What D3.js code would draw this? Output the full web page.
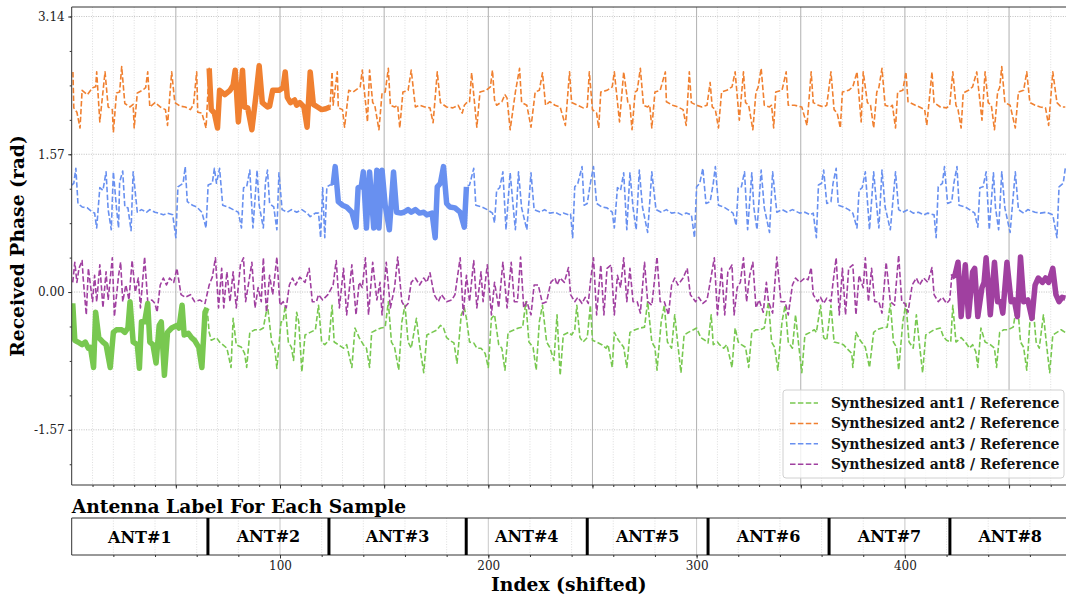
<!DOCTYPE html>
<html>
<head>
<meta charset="utf-8">
<script src="https://cdn.jsdelivr.net/npm/d3@7/dist/d3.min.js"></script>
<style>
  body { margin: 0; background: #fff; }
  text { font-family: "DejaVu Serif", serif; }
</style>
</head>
<body>
<script>
// phase samples, [index, phase in rad]
var ant1Pts = [[0.5,-0.13],[1.5,-0.55],[3,-0.57],[5,-0.60],[6.5,-0.57],[8,-0.64],[9,-0.63],[10.5,-0.86],[11.5,-0.23],[13,-0.52],[15,-0.57],[16.5,-0.60],[18.5,-0.86],[20,-0.46],[21.5,-0.43],[24,-0.43],[25.5,-0.46],[27,-0.41],[28,-0.11],[29.5,-0.57],[31.5,-0.60],[32.5,-0.87],[33.5,-0.34],[35,-0.34],[36.5,-0.13],[37.5,-0.57],[39,-0.60],[40.5,-0.81],[42,-0.38],[43,-0.34],[44.5,-0.95],[46,-0.46],[48,-0.41],[50.5,-0.38],[51.5,-0.41],[53,-0.15],[54,-0.49],[56,-0.47],[57.5,-0.52],[59,-0.55],[61,-0.63],[62.5,-0.86],[64,-0.23],[65,-0.18],[66,-0.46],[67,-0.55],[69.5,-0.52],[71,-0.57],[72.5,-0.60],[74.5,-0.64],[76.5,-0.86],[77.5,-0.30],[79,-0.60],[81.5,-0.63],[83,-0.70],[84,-0.86],[85.5,-0.46],[88,-0.43],[90.5,-0.43],[92,-0.41],[94,-0.15],[96,-0.57],[97.5,-0.64],[98.5,-0.87],[100.5,-0.34],[101.5,-0.34],[102.5,-0.15],[104,-0.57],[105.5,-0.63],[106.5,-0.78],[108,-0.23],[109,-0.34],[110.5,-0.91],[112,-0.49],[114.5,-0.46],[117,-0.43],[118.5,-0.15],[120,-0.57],[121.5,-0.60],[123.5,-0.55],[125,-0.15],[126,-0.57],[128,-0.60],[130.5,-0.64],[132,-0.60],[134.5,-0.86],[136,-0.41],[138,-0.52],[140,-0.60],[141.5,-0.64],[143,-0.86],[144,-0.46],[146.5,-0.43],[148.5,-0.41],[150.5,-0.40],[152,-0.11],[153.5,-0.57],[155,-0.63],[157,-0.89],[158.5,-0.34],[160,-0.15],[161.5,-0.57],[163,-0.64],[165.5,-0.30],[167,-0.60],[169,-0.92],[170.5,-0.49],[173,-0.46],[175.5,-0.43],[177,-0.38],[178.5,-0.41],[180,-0.52],[181.5,-0.55],[183.5,-0.58],[185,-0.81],[187,-0.26],[188.5,-0.18],[189.5,-0.30],[191,-0.57],[193,-0.58],[194.5,-0.64],[196.5,-0.64],[198.5,-0.70],[200,-0.86],[201.5,-0.30],[203,-0.26],[205,-0.60],[206.5,-0.64],[208,-0.89],[209.5,-0.46],[212.5,-0.43],[214.5,-0.41],[216.5,-0.40],[218,-0.11],[219.5,-0.57],[221.5,-0.63],[223,-0.89],[224.5,-0.34],[226,-0.15],[228,-0.57],[229.5,-0.63],[231.5,-0.78],[233,-0.26],[234.5,-0.95],[236,-0.49],[238.5,-0.46],[240,-0.49],[241.5,-0.43],[242.5,-0.15],[244,-0.52],[245.5,-0.57],[247.5,-0.52],[249,-0.15],[250,-0.55],[252,-0.57],[254.5,-0.60],[256.5,-0.64],[257.5,-0.60],[259.5,-0.86],[260.5,-0.46],[262.5,-0.55],[265,-0.63],[266.5,-0.86],[268,-0.46],[270.5,-0.43],[273,-0.41],[275,-0.40],[276.5,-0.11],[278.5,-0.57],[280,-0.63],[281,-0.89],[283,-0.34],[284.5,-0.15],[286,-0.57],[288,-0.64],[289.5,-0.26],[291,-0.60],[292.5,-0.92],[294,-0.49],[296,-0.46],[298.5,-0.43],[300,-0.41],[302,-0.52],[304,-0.55],[305.5,-0.58],[307,-0.26],[308,-0.60],[310,-0.57],[311,-0.60],[313,-0.64],[314.5,-0.60],[317,-0.86],[318.5,-0.41],[320,-0.57],[321.5,-0.60],[323.5,-0.63],[325,-0.86],[326.5,-0.46],[328.5,-0.43],[330.5,-0.43],[332.5,-0.41],[334.5,-0.11],[336,-0.57],[337.5,-0.63],[339,-0.89],[341,-0.34],[342.5,-0.15],[344,-0.57],[346,-0.64],[347.5,-0.26],[349,-0.60],[350.5,-0.92],[352,-0.49],[354.5,-0.46],[356.5,-0.43],[357.5,-0.46],[359.5,-0.15],[361,-0.52],[362.5,-0.55],[364.5,-0.15],[366,-0.57],[368,-0.58],[370.5,-0.60],[372,-0.64],[374.5,-0.70],[375,-0.86],[376.5,-0.46],[378.5,-0.55],[381,-0.63],[383,-0.86],[385,-0.46],[386.5,-0.43],[389,-0.41],[391.5,-0.40],[393,-0.13],[394.5,-0.57],[396,-0.63],[397,-0.89],[399,-0.34],[400.5,-0.13],[402,-0.57],[404,-0.64],[405.5,-0.26],[407,-0.60],[408.5,-0.92],[410,-0.49],[412,-0.46],[414,-0.43],[417,-0.41],[418.5,-0.51],[420,-0.55],[422,-0.57],[423,-0.15],[424.5,-0.57],[427,-0.52],[429,-0.57],[431,-0.64],[432.5,-0.60],[434,-0.68],[435,-0.86],[436.5,-0.41],[438.5,-0.57],[441,-0.60],[443,-0.64],[444,-0.86],[445.5,-0.46],[447.5,-0.43],[449.5,-0.43],[452,-0.40],[454,-0.11],[455.5,-0.57],[457,-0.63],[458.5,-0.89],[460,-0.34],[461.5,-0.15],[463,-0.57],[464.5,-0.64],[466.5,-0.26],[468,-0.60],[469.5,-0.92],[471,-0.49],[473,-0.46],[475,-0.43],[477,-0.46]];

var ant2Pts = [[0.6,2.51],[1,2.10],[2.5,2.05],[4,1.87],[5,2.30],[7.5,2.25],[10,2.33],[11.5,2.34],[12,2.51],[13.5,1.94],[16,2.51],[17.5,2.11],[19.5,2.08],[20,1.82],[21.5,2.27],[23,2.28],[24,2.57],[25.5,2.15],[28,2.11],[29.5,2.14],[30,1.87],[31.5,2.27],[34,2.30],[35.5,2.33],[36.5,2.51],[37.5,2.11],[40,2.16],[42.5,2.11],[45,2.08],[46,1.90],[48,2.51],[49.5,2.16],[52,2.12],[54.5,2.11],[57,2.08],[58.5,2.14],[60,2.51],[60.5,2.05],[62.5,2.04],[64.5,1.87],[66,2.55],[67,2.08],[68.5,2.04],[70,1.87],[71,2.30],[73.5,2.25],[76,2.30],[77.5,2.36],[78.5,2.53],[80,1.94],[82,2.53],[83,2.11],[84.5,2.10],[86.5,1.85],[88.5,2.25],[90,2.58],[91.5,2.16],[94,2.11],[95,2.12],[96.5,2.30],[99.5,2.30],[101.5,2.33],[102.5,2.51],[103.5,2.22],[105,2.16],[107,2.19],[108,2.13],[109.5,2.16],[111.5,2.11],[113,1.88],[114.5,2.51],[116,2.14],[118,2.11],[120,2.08],[122,2.09],[124,2.11],[125,2.51],[125.5,2.13],[127.5,2.51],[128,2.10],[130,2.08],[131,1.88],[133,2.30],[135,2.28],[138.5,2.34],[139.5,2.53],[142,1.94],[143,2.53],[144.5,2.16],[145.5,2.13],[147.5,1.85],[149,2.27],[150.5,2.28],[152,2.55],[153,2.13],[155,2.11],[156.5,2.13],[157.5,1.87],[159,2.28],[161.5,2.30],[163,2.53],[165,2.11],[167,2.13],[169.5,2.11],[172,2.10],[173.5,1.93],[175.5,2.51],[177,2.16],[180,2.11],[183,2.10],[185.5,2.13],[187.5,2.04],[188.5,2.13],[190,2.17],[191,2.17],[192,2.50],[193.5,2.13],[194.5,1.88],[196,2.28],[199,2.30],[201,2.34],[202,2.53],[203,2.19],[204,2.13],[206.5,2.17],[208,2.25],[209,2.21],[210.5,1.85],[213,2.28],[215,2.55],[216,2.16],[218.5,2.13],[220.5,1.88],[222.5,2.28],[224.5,2.30],[226,2.50],[227.5,2.13],[229.5,2.17],[232,2.13],[234.5,2.11],[237,1.90],[239,2.51],[240,2.16],[243,2.13],[245.5,2.10],[247.5,2.11],[248.5,2.51],[250,2.08],[252,2.04],[253,1.87],[254,2.28],[257,2.30],[259.5,2.34],[260.5,2.51],[263,1.94],[265,2.51],[267,2.16],[268,2.13],[269,1.85],[270.5,2.28],[271.5,2.30],[273,2.55],[274.5,2.13],[276.5,2.11],[277.5,2.13],[278.5,1.87],[280,2.28],[282.5,2.30],[285,2.51],[285.5,2.17],[288.5,2.13],[291,2.11],[293.5,2.08],[295,1.90],[296.5,2.51],[297.5,2.16],[300,2.13],[302.5,2.11],[305,2.13],[306.5,2.39],[307.5,2.11],[309,2.08],[310.5,1.87],[312,2.28],[314.5,2.30],[317,2.34],[318.5,2.51],[320.5,1.96],[322.5,2.51],[323.5,2.16],[325,2.13],[327,1.85],[328.5,2.28],[329.5,2.33],[331,2.55],[332.5,2.13],[335,2.11],[336,2.13],[337,1.87],[338,2.28],[341,2.30],[343,2.51],[344,2.13],[347,2.13],[350.5,2.11],[353,1.90],[355,2.51],[356,2.16],[358.5,2.13],[361,2.11],[362.5,2.13],[364.5,2.51],[366,2.08],[367.5,2.04],[369,1.87],[370,2.28],[373,2.30],[375,2.34],[377,2.51],[379,1.94],[380,2.51],[382,2.16],[383.5,2.13],[385,1.87],[386.5,2.28],[387.5,2.33],[389,2.55],[390.5,2.13],[393,2.11],[394,2.13],[395.5,1.87],[396.5,2.28],[399,2.30],[400.5,2.51],[401.5,2.17],[405,2.13],[407,2.11],[409.5,2.08],[410.5,1.90],[413,2.51],[414,2.16],[417,2.11],[420,2.10],[421.5,2.13],[423,2.51],[424.5,2.13],[425.5,2.08],[427,1.87],[428,2.27],[430.5,2.30],[432.5,2.34],[434.5,2.51],[437,1.96],[438.5,2.51],[440,2.16],[441.5,2.13],[443,1.85],[444.5,2.28],[445.5,2.33],[446.5,2.57],[448,2.16],[450.5,2.13],[453,1.87],[454.5,2.28],[457,2.30],[458.5,2.51],[460,2.16],[462.5,2.13],[465,2.11],[467.5,2.10],[469,1.90],[471,2.51],[473,2.16],[475,2.11],[477,2.11]];

var ant3Pts = [[0,1.22],[1,1.24],[2,1.41],[3,1.01],[5,0.97],[7.5,0.96],[10,0.91],[11,0.90],[12,0.73],[13.5,1.19],[15,1.16],[16.5,1.37],[17.5,0.94],[19,0.71],[20,1.37],[21.5,0.96],[22.5,0.73],[23,1.25],[24.5,1.38],[25.5,0.97],[27,0.96],[28.5,0.70],[29.5,1.37],[31.5,0.91],[33.5,0.94],[36,0.91],[37.5,0.94],[40,0.91],[41.5,0.90],[44,0.88],[46,0.90],[48.5,0.88],[50,0.62],[51,1.20],[53.5,1.24],[54.5,1.43],[55.5,1.03],[58,0.99],[60,0.97],[62.5,0.91],[64.5,0.73],[65.5,1.22],[67.5,1.24],[68.5,1.41],[69.5,1.24],[71,1.41],[72.5,0.99],[75,0.97],[77.5,0.94],[80,0.91],[81.5,0.73],[82.5,1.19],[84,1.20],[85.5,1.39],[87,0.73],[89,1.39],[90,0.99],[92,0.73],[93,1.25],[94,1.39],[95,1.01],[97,0.97],[98.5,0.71],[99.5,1.36],[101,0.94],[103.5,0.91],[105.5,0.94],[108,0.91],[110.5,0.94],[113,0.90],[114.5,0.86],[117,0.90],[118.5,0.90],[119.5,0.62],[120.5,1.19],[121.5,0.62],[122.5,1.20],[124,1.22],[125.5,1.22],[126.5,1.43],[128,1.03],[130,0.99],[132,0.97],[134.5,0.91],[136.5,0.74],[137.5,1.19],[139,1.20],[140,1.37],[141.5,0.73],[143,1.37],[145,0.73],[146.5,1.39],[147.5,0.73],[149,1.39],[150.5,0.99],[152.5,0.71],[154.5,1.37],[156,0.91],[158,0.90],[159.5,0.91],[161.5,0.94],[163,0.91],[165,0.94],[167,0.90],[169,0.91],[170.5,0.88],[173,0.90],[174.5,0.62],[175.5,1.20],[177,1.24],[178.5,1.43],[180,1.01],[181.5,0.97],[184,0.96],[186.5,0.91],[188.5,0.74],[189.5,1.20],[191,1.22],[193,1.41],[194,0.99],[197,0.97],[199.5,0.94],[202,0.90],[203,0.79],[204,1.16],[205.5,1.19],[207,1.37],[208.5,0.71],[210.5,1.36],[212,0.96],[213,0.71],[214.5,1.37],[216,0.96],[218.5,0.71],[220.5,1.36],[222,0.94],[225,0.91],[227,0.94],[229.5,0.90],[232,0.91],[234.5,0.88],[236,0.90],[238.5,0.88],[239.5,0.89],[240.5,0.62],[241.5,1.20],[243,1.24],[245,1.43],[246,0.99],[247.5,1.01],[249,1.24],[250.5,1.43],[252,1.01],[254.5,0.97],[257,0.96],[259.5,0.91],[260.5,0.73],[262,1.19],[263.5,1.16],[265,1.36],[266.5,0.71],[268,1.36],[269.5,0.96],[271,0.71],[272.5,1.39],[274,0.97],[276.5,0.68],[278.5,1.37],[280.5,0.94],[283,0.91],[285.5,0.94],[288,0.90],[290.5,0.91],[293,0.88],[295,0.90],[297.5,0.88],[299,0.62],[300,1.20],[301.5,1.24],[303,1.41],[304.5,1.01],[306.5,1.03],[308,1.24],[309,1.43],[310.5,0.99],[313,0.97],[315,0.94],[317.5,0.90],[319,0.76],[320,1.19],[321.5,1.20],[323,1.37],[324.5,0.71],[326.5,1.36],[327.5,0.96],[329,0.71],[331,1.39],[332.5,0.96],[335,0.68],[336.5,1.37],[338.5,0.91],[341,0.94],[343.5,0.91],[346,0.94],[349.5,0.90],[352,0.91],[354.5,0.88],[356,0.90],[357.5,0.62],[358.5,1.22],[360,1.24],[361,1.39],[362.5,1.01],[364.5,1.03],[365.5,1.24],[367,1.41],[368,0.99],[370.5,0.97],[373,0.94],[375,0.90],[377,0.73],[378,1.16],[379.5,1.19],[381,1.37],[383,0.71],[385,1.37],[386.5,0.97],[387.5,0.73],[389,1.39],[390.5,0.97],[393,0.71],[395.5,1.37],[397,0.94],[399,0.91],[401.5,0.94],[404,0.90],[406.5,0.91],[409,0.88],[411,0.90],[414,0.88],[415,0.62],[416,1.20],[418,1.24],[419,1.43],[420.5,1.01],[422.5,1.03],[423.5,1.24],[425,1.43],[426,0.99],[429,0.97],[431,0.94],[433.5,0.90],[435,0.74],[436,1.19],[437.5,1.20],[439,1.37],[440.5,0.71],[442.5,1.36],[443.5,0.96],[445,0.71],[446.5,1.37],[448,0.96],[450.5,0.68],[453,1.37],[454.5,0.94],[457,0.90],[459,0.94],[462.5,0.91],[465,0.90],[468,0.91],[471,0.88],[473,0.62],[474,1.20],[476,1.24],[477,1.41]];

var ant8Pts = [[0.5,0.11],[1.5,0.34],[2.5,0.11],[3.5,0.27],[5,0.36],[5.5,0.16],[7,-0.26],[8,0.27],[10,-0.11],[11,0.19],[12,-0.11],[13.5,0.31],[15,-0.18],[16.5,0.23],[17.5,-0.09],[19.5,0.39],[20.5,-0.28],[22.5,0.19],[23.5,0.34],[24.5,-0.11],[26,0.08],[27.5,-0.09],[29,0.36],[30.5,0.00],[32,0.16],[33,-0.18],[35,0.40],[36.5,-0.11],[38.5,-0.09],[40,-0.13],[41,-0.23],[42.5,0.08],[44,0.16],[45.5,0.08],[47,0.16],[49,0.11],[50.5,0.27],[52.5,-0.03],[54.5,-0.06],[57,-0.03],[59,-0.11],[61.5,-0.09],[64,-0.13],[66,0.08],[67.5,0.17],[69,0.39],[70.5,-0.18],[72,0.27],[73,-0.18],[74.5,0.23],[76,-0.11],[77.5,0.23],[79,-0.18],[81,0.31],[82.5,0.39],[83.5,-0.11],[85,0.11],[86.5,0.34],[88,-0.18],[89.5,0.05],[91,-0.11],[92,0.39],[93.5,-0.23],[95,0.19],[96.5,-0.03],[98.5,0.40],[100,-0.15],[101.5,-0.11],[103,-0.18],[104.5,0.08],[106,0.16],[107.5,0.08],[109.5,0.17],[112,0.11],[114,0.27],[115.5,-0.11],[117.5,-0.11],[118.5,-0.03],[120.5,-0.09],[123,-0.03],[125.5,0.08],[127,0.36],[128.5,-0.18],[130.5,0.27],[132,-0.26],[134.5,0.31],[136.5,-0.26],[138,0.11],[139.5,0.05],[141,0.39],[142.5,-0.26],[144.5,0.34],[146.5,-0.09],[148,0.11],[149,-0.26],[151,0.34],[153,-0.18],[155,0.05],[156.5,0.40],[158.5,-0.11],[160,-0.17],[161.5,-0.13],[163,0.11],[165,0.16],[167,0.08],[169,0.16],[170.5,0.11],[172,0.22],[174,-0.03],[176,-0.11],[177.5,-0.03],[180,-0.11],[182.5,-0.09],[184,-0.03],[185,0.14],[186.5,0.39],[188,-0.26],[189.5,0.19],[191,-0.11],[193,0.36],[194.5,-0.18],[196.5,0.23],[197.5,-0.11],[199.5,0.31],[201.5,-0.26],[203,0.11],[205,-0.18],[207,0.34],[209,-0.18],[211,0.34],[212.5,-0.11],[214,-0.11],[215.5,0.40],[217,-0.18],[218.5,-0.11],[220.5,-0.26],[222,0.08],[224,0.08],[226,-0.13],[228,-0.11],[230,0.11],[232,0.16],[233,0.08],[234.5,0.16],[236.5,0.11],[238.5,0.28],[239.5,-0.03],[241.5,-0.11],[243,-0.06],[245,-0.13],[246.5,-0.06],[248,-0.13],[249,0.11],[250.5,0.39],[252,-0.26],[254,0.31],[255.5,-0.26],[257,0.27],[259,0.31],[260.5,-0.26],[262,0.19],[263.5,0.05],[265,0.39],[266.5,-0.11],[268,0.27],[269.5,-0.11],[271.5,-0.11],[273,-0.24],[275,0.34],[276.5,-0.11],[278.5,-0.15],[281,0.40],[282.5,-0.11],[284.5,-0.11],[286.5,-0.26],[288,0.08],[289.5,0.16],[291,0.08],[293.5,0.16],[295.5,0.27],[297,-0.03],[299.5,-0.11],[301,-0.06],[303,-0.13],[305,-0.09],[306.5,0.11],[308.5,0.39],[310,-0.26],[312,0.27],[313.5,-0.26],[315,0.23],[317,0.31],[318,-0.26],[319.5,0.05],[321,0.11],[322.5,0.39],[324,-0.11],[325.5,0.19],[327,0.34],[328.5,-0.18],[330,-0.09],[332,-0.23],[333.5,0.11],[334.5,-0.11],[336.5,-0.24],[338.5,0.40],[340.5,-0.11],[342.5,-0.11],[344,-0.26],[346,0.08],[347.5,0.16],[349.5,0.11],[352,0.16],[353.5,0.14],[355,0.28],[356,-0.03],[358,-0.11],[359.5,-0.06],[361,-0.13],[362.5,-0.07],[364.5,-0.11],[365.5,0.11],[367,0.39],[368.5,-0.26],[370,0.27],[371.5,-0.26],[373,0.27],[375,0.31],[376.5,-0.26],[378,0.19],[380,0.05],[381,0.39],[382.5,-0.11],[384,0.27],[385.5,-0.11],[387.5,-0.11],[389,-0.24],[391,0.34],[393,-0.11],[395,-0.15],[397,0.42],[398.5,-0.11],[400,-0.13],[401.5,-0.23],[403.5,0.08],[405.5,0.16],[407,0.08],[409,0.16],[411,0.11],[413,0.28],[414,-0.03],[416,-0.11],[418,-0.06],[420,-0.13],[421.5,-0.09],[422.5,0.17],[424,0.19],[425.5,0.34],[427,-0.28],[429,0.31],[430.5,-0.28],[432.5,0.23],[433.5,0.27],[435,-0.28],[437,0.05],[438,0.11],[439,0.39],[441,-0.26],[443,0.34],[444.5,-0.11],[446,-0.11],[447,-0.24],[449,0.34],[451,-0.11],[452.5,-0.09],[454,-0.28],[455.5,0.40],[457,-0.11],[459,-0.09],[461,-0.30],[462.5,0.08],[464,0.16],[466,0.11],[467.5,0.16],[469,0.11],[471,0.27],[472.5,-0.03],[474,-0.11],[475.5,-0.06],[477,-0.07]];

// series names, and the index span each series is highlighted over
var seriesNames = ["Synthesized ant1 / Reference", "Synthesized ant2 / Reference",
                   "Synthesized ant3 / Reference", "Synthesized ant8 / Reference"];
var boldSpans = [[0, 65.2], [65.5, 124.5], [124.5, 190], [422, 478]];

// antenna label strip
var antLabels = ["ANT#1", "ANT#2", "ANT#3", "ANT#4", "ANT#5", "ANT#6", "ANT#7", "ANT#8"];
var antEdges = [0, 65.4, 123.5, 189.4, 247.5, 305.5, 363.6, 421.6, 479.5];

// tick labels
var yTicks = [-Math.PI / 2, 0, Math.PI / 2, Math.PI];
var yTickLabels = ["-1.57", "0.00", "1.57", "3.14"];
var xTickLabels = [100, 200, 300, 400];

var seriesData = [ant1Pts, ant2Pts, ant3Pts, ant8Pts];
var colors = ["#78c850", "#f08030", "#6890f0", "#a040a0"];

// sizes
var width = 1066, height = 598;
var plot = {left: 71.7, right: 1070.5, top: 7, bottom: 485};
var strip = {top: 518, bottom: 555};

var x = d3.scaleLinear().domain([0, 479.5]).range([plot.left, plot.right]);
var y = d3.scaleLinear().domain([-2.2, 3.25]).range([plot.bottom, plot.top]);

var svg = d3.select("body").append("svg")
    .attr("width", width)
    .attr("height", height)
    .style("display", "block");

svg.append("clipPath").attr("id", "plotclip")
  .append("rect")
    .attr("x", plot.left).attr("y", plot.top)
    .attr("width", plot.right - plot.left).attr("height", plot.bottom - plot.top);

// grid of the main panel
var grid = svg.append("g");
grid.selectAll(".vminor")
    .data(d3.range(0, 480, 10).filter(function(d) { return d % 50 != 0; }))
  .enter().append("line")
    .attr("x1", function(d) { return x(d); }).attr("x2", function(d) { return x(d); })
    .attr("y1", plot.top).attr("y2", plot.bottom)
    .style("stroke", "#d6d6d6").style("stroke-width", 0.8)
    .style("stroke-dasharray", "1,1.6");
grid.selectAll(".vmajor")
    .data(d3.range(50, 480, 50))
  .enter().append("line")
    .attr("x1", function(d) { return x(d); }).attr("x2", function(d) { return x(d); })
    .attr("y1", plot.top).attr("y2", plot.bottom)
    .style("stroke", "#b0b0b0").style("stroke-width", 1);
grid.selectAll(".hmajor")
    .data(yTicks)
  .enter().append("line")
    .attr("x1", plot.left).attr("x2", plot.right)
    .attr("y1", function(d) { return y(d); }).attr("y2", function(d) { return y(d); })
    .style("stroke", "#b0b0b0").style("stroke-width", 0.8)
    .style("stroke-dasharray", "1,1.4");

// the phase lines
var line = d3.line()
    .x(function(d) { return x(d[0]); })
    .y(function(d) { return y(d[1]); });

var lines = svg.append("g").attr("clip-path", "url(#plotclip)");

seriesData.forEach(function(pts, k) {
  lines.append("path")
      .datum(pts)
      .attr("d", line)
      .style("fill", "none")
      .style("stroke", colors[k])
      .style("stroke-width", 1.6)
      .style("stroke-dasharray", "5.5,2.4")
      .style("stroke-linejoin", "round");
});

// thick highlight where each antenna is the one sampled
seriesData.forEach(function(pts, k) {
  var span = boldSpans[k];
  lines.append("path")
      .datum(pts.filter(function(d) { return d[0] >= span[0] && d[0] <= span[1]; }))
      .attr("d", line)
      .style("fill", "none")
      .style("stroke", colors[k])
      .style("stroke-width", 5.5)
      .style("stroke-linejoin", "round")
      .style("stroke-linecap", "butt");
});

// axes of the main panel
function styleAxis(g) {
  g.select(".domain").remove();
  g.selectAll(".tick line").style("stroke", "#333");
  g.selectAll(".tick text")
      .style("font-family", "DejaVu Serif")
      .style("font-size", "12px")
      .style("fill", "#222");
}

svg.append("g")
    .attr("transform", "translate(" + plot.left + ",0)")
    .call(d3.axisLeft(y).tickValues(d3.range(-5, 9).map(function(k) { return k * Math.PI / 8; }))
      .tickSize(2).tickFormat(""))
    .call(styleAxis);

svg.append("g")
    .attr("transform", "translate(" + plot.left + ",0)")
    .call(d3.axisLeft(y).tickValues(yTicks).tickSize(3.5).tickPadding(3.5)
      .tickFormat(function(d, i) { return yTickLabels[i]; }))
    .call(styleAxis);

svg.append("g")
    .attr("transform", "translate(0," + plot.bottom + ")")
    .call(d3.axisBottom(x).tickValues(d3.range(10, 480, 10)).tickSize(2).tickFormat(""))
    .call(styleAxis);

svg.append("g")
    .attr("transform", "translate(0," + plot.bottom + ")")
    .call(d3.axisBottom(x).tickValues(d3.range(50, 480, 50)).tickSize(3.5).tickFormat(""))
    .call(styleAxis);

// spines
svg.append("path")
    .attr("d", "M" + plot.left + "," + plot.top + "H" + (plot.right + 5) +
               "M" + plot.left + "," + plot.top + "V" + plot.bottom + "H" + (plot.right + 5))
    .style("fill", "none").style("stroke", "#333").style("stroke-width", 1);

// y axis label
svg.append("text")
    .attr("transform", "translate(24," + ((plot.top + plot.bottom) / 2) + ") rotate(-90)")
    .style("text-anchor", "middle")
    .style("font-size", "18.7px")
    .style("font-weight", "bold")
    .text("Received Phase (rad)");

// legend
var legend = svg.append("g").attr("transform", "translate(783,390)");
legend.append("rect")
    .attr("width", 281).attr("height", 88).attr("rx", 3)
    .style("fill", "#fff").style("fill-opacity", 0.8)
    .style("stroke", "#d0d0d0").style("stroke-width", 1);

var items = legend.selectAll(".item")
    .data(seriesNames)
  .enter().append("g")
    .attr("transform", function(d, i) { return "translate(0," + (13 + i * 20.4) + ")"; });

items.append("line")
    .attr("x1", 7).attr("x2", 35).attr("y1", 0).attr("y2", 0)
    .style("stroke", function(d, i) { return colors[i]; })
    .style("stroke-width", 1.5)
    .style("stroke-dasharray", "5.5,2.4");

items.append("text")
    .attr("x", 48).attr("y", 5)
    .style("font-size", "14px")
    .style("font-weight", "bold")
    .style("fill", "#111")
    .text(function(d) { return d; });

// antenna label strip
svg.append("text")
    .attr("x", plot.left)
    .attr("y", 513)
    .style("font-size", "18.7px")
    .style("font-weight", "bold")
    .text("Antenna Label For Each Sample");

var stripGrid = svg.append("g");
stripGrid.selectAll(".sminor")
    .data(d3.range(20, 480, 20).filter(function(d) { return d % 100 != 0; }))
  .enter().append("line")
    .attr("x1", function(d) { return x(d); }).attr("x2", function(d) { return x(d); })
    .attr("y1", strip.top).attr("y2", strip.bottom)
    .style("stroke", "#d6d6d6").style("stroke-width", 0.8)
    .style("stroke-dasharray", "1,1.6");
stripGrid.selectAll(".smajor")
    .data(xTickLabels)
  .enter().append("line")
    .attr("x1", function(d) { return x(d); }).attr("x2", function(d) { return x(d); })
    .attr("y1", strip.top).attr("y2", strip.bottom)
    .style("stroke", "#c8c8c8").style("stroke-width", 1);

svg.append("g")
    .attr("transform", "translate(0," + strip.bottom + ")")
    .call(d3.axisBottom(x).tickValues(d3.range(20, 480, 20)).tickSize(2).tickFormat(""))
    .call(styleAxis);

svg.append("g")
    .attr("transform", "translate(0," + strip.bottom + ")")
    .call(d3.axisBottom(x).tickValues(xTickLabels).tickSize(3.5).tickPadding(3)
      .tickFormat(function(d) { return d; }))
    .call(styleAxis);

svg.append("path")
    .attr("d", "M" + (plot.right + 5) + "," + strip.top + "H" + plot.left + "V" + strip.bottom + "H" + (plot.right + 5))
    .style("fill", "none").style("stroke", "#333").style("stroke-width", 1);

// separators between antennas
svg.selectAll(".sep")
    .data(antEdges.slice(1, -1))
  .enter().append("line")
    .attr("x1", function(d) { return x(d); }).attr("x2", function(d) { return x(d); })
    .attr("y1", strip.top).attr("y2", strip.bottom)
    .style("stroke", "#000").style("stroke-width", 3);

svg.selectAll(".antlabel")
    .data(antLabels)
  .enter().append("text")
    .attr("x", function(d, i) { return x((antEdges[i] + antEdges[i + 1]) / 2); })
    .attr("y", function(d, i) { return i == 0 ? 543 : 541.5; })
    .style("text-anchor", "middle")
    .style("font-size", "16px")
    .style("font-weight", "bold")
    .text(function(d) { return d; });

// x axis label
svg.append("text")
    .attr("x", (plot.left + 1066) / 2)
    .attr("y", 590.5)
    .style("text-anchor", "middle")
    .style("font-size", "18.7px")
    .style("font-weight", "bold")
    .text("Index (shifted)");
</script>
</body>
</html>
